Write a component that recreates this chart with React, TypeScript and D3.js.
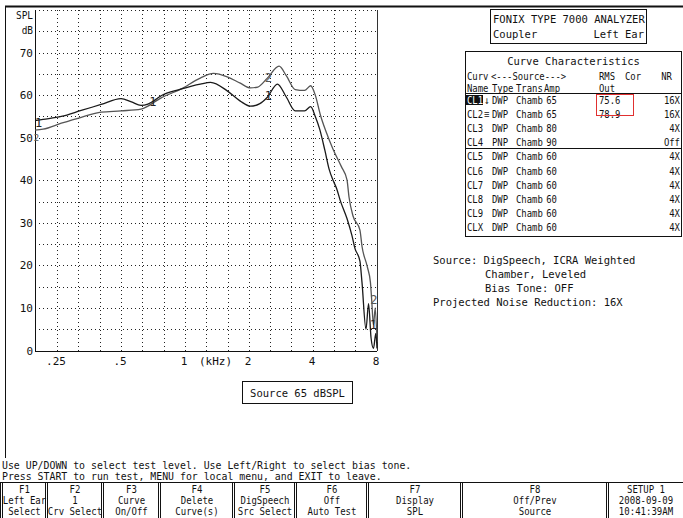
import React from 'react';
import * as d3 from 'd3';

// curve 1 (dark) and curve 2 (grey), kHz / dB SPL
const freq1 = [0.197, 0.215, 0.262, 0.325, 0.403, 0.5, 0.56, 0.621, 0.669, 0.729, 0.769, 0.955, 1.18, 1.32, 1.58, 1.82, 2.03, 2.25, 2.44, 2.72, 3.0, 3.3, 3.65, 3.9, 4.1, 4.3, 4.55, 4.77, 4.97, 5.17, 5.36, 5.78, 6.1, 6.3, 6.65, 6.8, 7.1, 7.3, 7.5, 7.7, 7.9, 8.0];
const spl1 = [54.0, 54.3, 55.0, 56.4, 57.8, 59.2, 58.4, 57.6, 57.9, 59.0, 59.8, 61.4, 62.6, 63.0, 61.0, 58.6, 57.4, 58.0, 59.5, 62.6, 59.5, 56.3, 56.3, 57.3, 55.0, 52.0, 47.0, 42.5, 40.0, 38.0, 35.4, 31.0, 27.0, 24.0, 21.0, 16.0, 5.0, 11.0, 3.0, 0.5, 4.0, 0.5];
const freq2 = [0.197, 0.215, 0.262, 0.325, 0.403, 0.5, 0.621, 0.669, 0.729, 0.769, 0.955, 1.18, 1.36, 1.58, 1.82, 2.03, 2.2, 2.44, 2.77, 3.0, 3.3, 3.65, 3.9, 4.1, 4.33, 4.6, 4.97, 5.44, 5.78, 5.91, 6.17, 6.65, 6.8, 7.2, 7.45, 7.55, 7.7, 7.85, 8.0];
const spl2 = [51.8, 52.0, 53.4, 54.8, 56.0, 56.3, 56.7, 57.4, 58.6, 59.3, 61.4, 64.0, 65.1, 64.3, 62.8, 61.7, 61.9, 64.0, 66.8, 64.5, 61.3, 61.1, 62.2, 60.0, 55.4, 51.5, 47.3, 43.2, 40.1, 36.0, 31.6, 28.3, 24.5, 19.7, 16.0, 12.0, 6.0, 10.0, 2.0];

const curveLabelText = ['1', '2', '1', '2', '1', '2', '1'];
const curveLabelFreq = [0.205, 0.2, 0.706, 2.465, 2.465, 7.73, 7.7];
const curveLabelDb = [53.6, 50.2, 58.4, 64.2, 59.8, 12.0, 6.1];
const curveLabelCurve = [1, 2, 1, 2, 1, 2, 1];

const gridFreqs = [0.25, 0.315, 0.4, 0.5, 0.63, 0.8, 1, 1.25, 1.6, 2, 2.5, 3.15, 4, 5, 6.3];
const gridDb = [5, 10, 15, 20, 25, 30, 35, 40, 45, 50, 55, 60, 65, 70, 75, 80];
const xTickValues = [0.25, 0.5, 1, 2, 4, 8];
const xTickLabels = ['.25', '.5', '1', '2', '4', '8'];
const yTickValues = [0, 10, 20, 30, 40, 50, 60, 70];

// curve characteristics table
const curveNames = ['CL1', 'CL2', 'CL3', 'CL4', 'CL5', 'CL6', 'CL7', 'CL8', 'CL9', 'CLX'];
const curveMarks = ['↓', '≡', '', '', '', '', '', '', '', ''];
const curveTypes = ['DWP', 'DWP', 'DWP', 'PNP', 'DWP', 'DWP', 'DWP', 'DWP', 'DWP', 'DWP'];
const curveTrans = ['Chamb', 'Chamb', 'Chamb', 'Chamb', 'Chamb', 'Chamb', 'Chamb', 'Chamb', 'Chamb', 'Chamb'];
const curveAmps = ['65', '65', '80', '90', '60', '60', '60', '60', '60', '60'];
const curveRms = ['75.6', '78.9', '', '', '', '', '', '', '', ''];
const curveNr = ['16X', '16X', '4X', 'Off', '4X', '4X', '4X', '4X', '4X', '4X'];

const sourceLines = ['Source: DigSpeech, ICRA Weighted', 'Chamber, Leveled', 'Bias Tone: OFF', 'Projected Noise Reduction: 16X'];
const helpLines = ['Use UP/DOWN to select test level. Use Left/Right to select bias tone.', 'Press START to run test, MENU for local menu, and EXIT to leave.'];

const fkeyTop = ['F1', 'F2', 'F3', 'F4', 'F5', 'F6', 'F7', 'F8', 'SETUP 1'];
const fkeyMid = ['Left Ear', '1', 'Curve', 'Delete', 'DigSpeech', 'Off', 'Display', 'Off/Prev', '2008-09-09'];
const fkeyBot = ['Select', 'Crv Select', 'On/Off', 'Curve(s)', 'Src Select', 'Auto Test', 'SPL', 'Source', '10:41:39AM'];
const fkeyEdges = [1, 46, 102, 159, 233, 295, 367, 461, 607, 683];

const W = 683;
const H = 518;
const plot = { left: 35, right: 377, top: 10, bottom: 350.5 };

const x = d3.scaleLog().domain([0.25, 8]).range([57, 377]);
const y = d3.scaleLinear().domain([0, 80]).range([plot.bottom, plot.top]);

const ink = '#111';

function T({ x, y, children, anchor = 'start', size = 10.5, fill = ink, sx = 1 }: any) {
  return (
    <text transform={`translate(${x},${y}) scale(${sx},1)`} textAnchor={anchor} fontSize={size} fill={fill}>
      {children}
    </text>
  );
}

export default function App() {
  const line = d3
    .line<[number, number]>()
    .x((d) => x(d[0]))
    .y((d) => y(d[1]))
    .curve(d3.curveMonotoneX);
  const c1 = line(freq1.map((f, i) => [f, spl1[i]]) as [number, number][]);
  const c2 = line(freq2.map((f, i) => [f, spl2[i]]) as [number, number][]);
  const rowY = (i: number) => 103.5 + i * 14.2;
  const tsx = 0.85;

  return (
    <svg width={W} height={H} style={{ position: 'absolute', left: 0, top: 0, background: '#fff' }} fontFamily="DejaVu Sans Mono">
      <rect width={W} height={H} fill="#fff" />
      {/* screen frame */}
      <line x1={5} x2={W} y1={6.5} y2={6.5} stroke={ink} strokeWidth={2} />
      <line x1={5.5} x2={5.5} y1={6} y2={458} stroke={ink} strokeWidth={1} />

      {/* grid */}
      <g stroke="#222" strokeWidth={1} strokeDasharray="1 3" shapeRendering="crispEdges">
        {gridFreqs.map((f) => (
          <line key={'gx' + f} x1={Math.round(x(f)) + 0.5} x2={Math.round(x(f)) + 0.5} y1={plot.top} y2={plot.bottom} />
        ))}
        {gridDb.map((v) => (
          <line key={'gy' + v} x1={plot.left} x2={plot.right} y1={Math.round(y(v)) + 0.5} y2={Math.round(y(v)) + 0.5} />
        ))}
      </g>
      <g stroke={ink} strokeWidth={1} shapeRendering="crispEdges">
        <line x1={plot.left + 0.5} x2={plot.left + 0.5} y1={plot.top} y2={plot.bottom + 0.5} />
        <line x1={plot.left} x2={plot.right} y1={plot.bottom + 0.5} y2={plot.bottom + 0.5} />
        <line x1={plot.right + 0.5} x2={plot.right + 0.5} y1={plot.top} y2={plot.bottom + 0.5} stroke="#333" />
      </g>

      {/* axes labels */}
      <T x={33} y={19} anchor="end" sx={0.9}>SPL</T>
      <T x={33} y={33.5} anchor="end" sx={0.9}>dB</T>
      {yTickValues.map((v) => (
        <T key={'yt' + v} x={33} y={y(v) + 4} anchor="end" size={11}>{v}</T>
      ))}
      {xTickValues.map((f, i) => (
        <T key={'xt' + f} x={x(f) - 1} y={365} anchor="middle" size={11}>{xTickLabels[i]}</T>
      ))}
      <T x={215.5} y={365} anchor="middle" size={11}>(kHz)</T>

      {/* curves */}
      <path d={c2 || ''} fill="none" stroke="#555" strokeWidth={1.3} />
      <path d={c1 || ''} fill="none" stroke="#1a1a1a" strokeWidth={1.3} />
      {curveLabelText.map((t, i) => (
        <T key={'cl' + i} x={x(curveLabelFreq[i])} y={y(curveLabelDb[i]) + 4.5} anchor="middle" size={i === 1 ? 9 : 12} fill={curveLabelCurve[i] === 1 ? '#222' : '#555'}>
          {t}
        </T>
      ))}

      {/* source box */}
      <rect x={242.5} y={381.5} width={110} height={22} fill="none" stroke={ink} />
      <T x={297.5} y={396.5} anchor="middle">Source  65 dBSPL</T>

      {/* analyzer header */}
      <rect x={490.5} y={9.5} width={156} height={34} fill="none" stroke={ink} />
      <T x={493} y={22.5}>FONIX TYPE 7000 ANALYZER</T>
      <T x={493} y={37.5}>Coupler</T>
      <T x={644} y={37.5} anchor="end">Left Ear</T>

      {/* curve characteristics */}
      <rect x={465.5} y={51.5} width={216} height={185} fill="none" stroke={ink} />
      <T x={573.5} y={65} anchor="middle">Curve Characteristics</T>
      <T x={467} y={79.5} sx={tsx}>Curv</T>
      <T x={491} y={79.5} sx={tsx}>{'<---Source--->'}</T>
      <T x={599} y={79.5} sx={tsx}>RMS</T>
      <T x={625} y={79.5} sx={tsx}>Cor</T>
      <T x={672} y={79.5} anchor="end" sx={tsx}>NR</T>
      <T x={467} y={91.5} sx={tsx}>Name</T>
      <T x={492} y={91.5} sx={tsx}>Type</T>
      <T x={516} y={91.5} sx={tsx}>Trans</T>
      <T x={544} y={91.5} sx={tsx}>Amp</T>
      <T x={599} y={91.5} sx={tsx}>Out</T>
      <line x1={466} x2={681} y1={93.5} y2={93.5} stroke={ink} />
      <rect x={466} y={95} width={17} height={10} fill={ink} />
      {curveNames.map((n, i) => (
        <g key={'row' + n}>
          <T x={467} y={rowY(i)} sx={tsx} fill={i === 0 ? '#fff' : ink}>{n}</T>
          <T x={484} y={rowY(i)} sx={tsx}>{curveMarks[i]}</T>
          <T x={492} y={rowY(i)} sx={tsx}>{curveTypes[i]}</T>
          <T x={516} y={rowY(i)} sx={tsx}>{curveTrans[i]}</T>
          <T x={557} y={rowY(i)} anchor="end" sx={tsx}>{curveAmps[i]}</T>
          <T x={599} y={rowY(i)} sx={tsx}>{curveRms[i]}</T>
          <T x={680} y={rowY(i)} anchor="end" sx={tsx}>{curveNr[i]}</T>
        </g>
      ))}
      <line x1={466} x2={681} y1={148.5} y2={148.5} stroke={ink} />
      <rect x={596.5} y={94.5} width={37} height={21} fill="none" stroke="#e03030" />

      {/* source description */}
      <T x={433} y={264}>{sourceLines[0]}</T>
      <T x={485} y={277.5}>{sourceLines[1]}</T>
      <T x={485} y={291.5}>{sourceLines[2]}</T>
      <T x={433} y={305.5}>{sourceLines[3]}</T>

      {/* help text */}
      <T x={2} y={468.5} sx={0.94}>{helpLines[0]}</T>
      <T x={2} y={479.5} sx={0.94}>{helpLines[1]}</T>

      {/* function keys */}
      <line x1={0} x2={W} y1={482.5} y2={482.5} stroke={ink} />
      {fkeyEdges.slice(0, -1).map((e) => (
        <g key={'sep' + e} stroke={ink}>
          <line x1={e - 0.5} x2={e - 0.5} y1={482.5} y2={H} />
          <line x1={e + 1.5} x2={e + 1.5} y1={482.5} y2={H} />
        </g>
      ))}
      {fkeyTop.map((t, i) => {
        const cx = (fkeyEdges[i] + fkeyEdges[i + 1]) / 2 + 1;
        return (
          <g key={'fk' + i}>
            <T x={cx} y={492.5} anchor="middle" sx={0.86}>{t}</T>
            <T x={cx} y={503.5} anchor="middle" sx={0.86}>{fkeyMid[i]}</T>
            <T x={cx} y={515} anchor="middle" sx={0.86}>{fkeyBot[i]}</T>
          </g>
        );
      })}
    </svg>
  );
}
